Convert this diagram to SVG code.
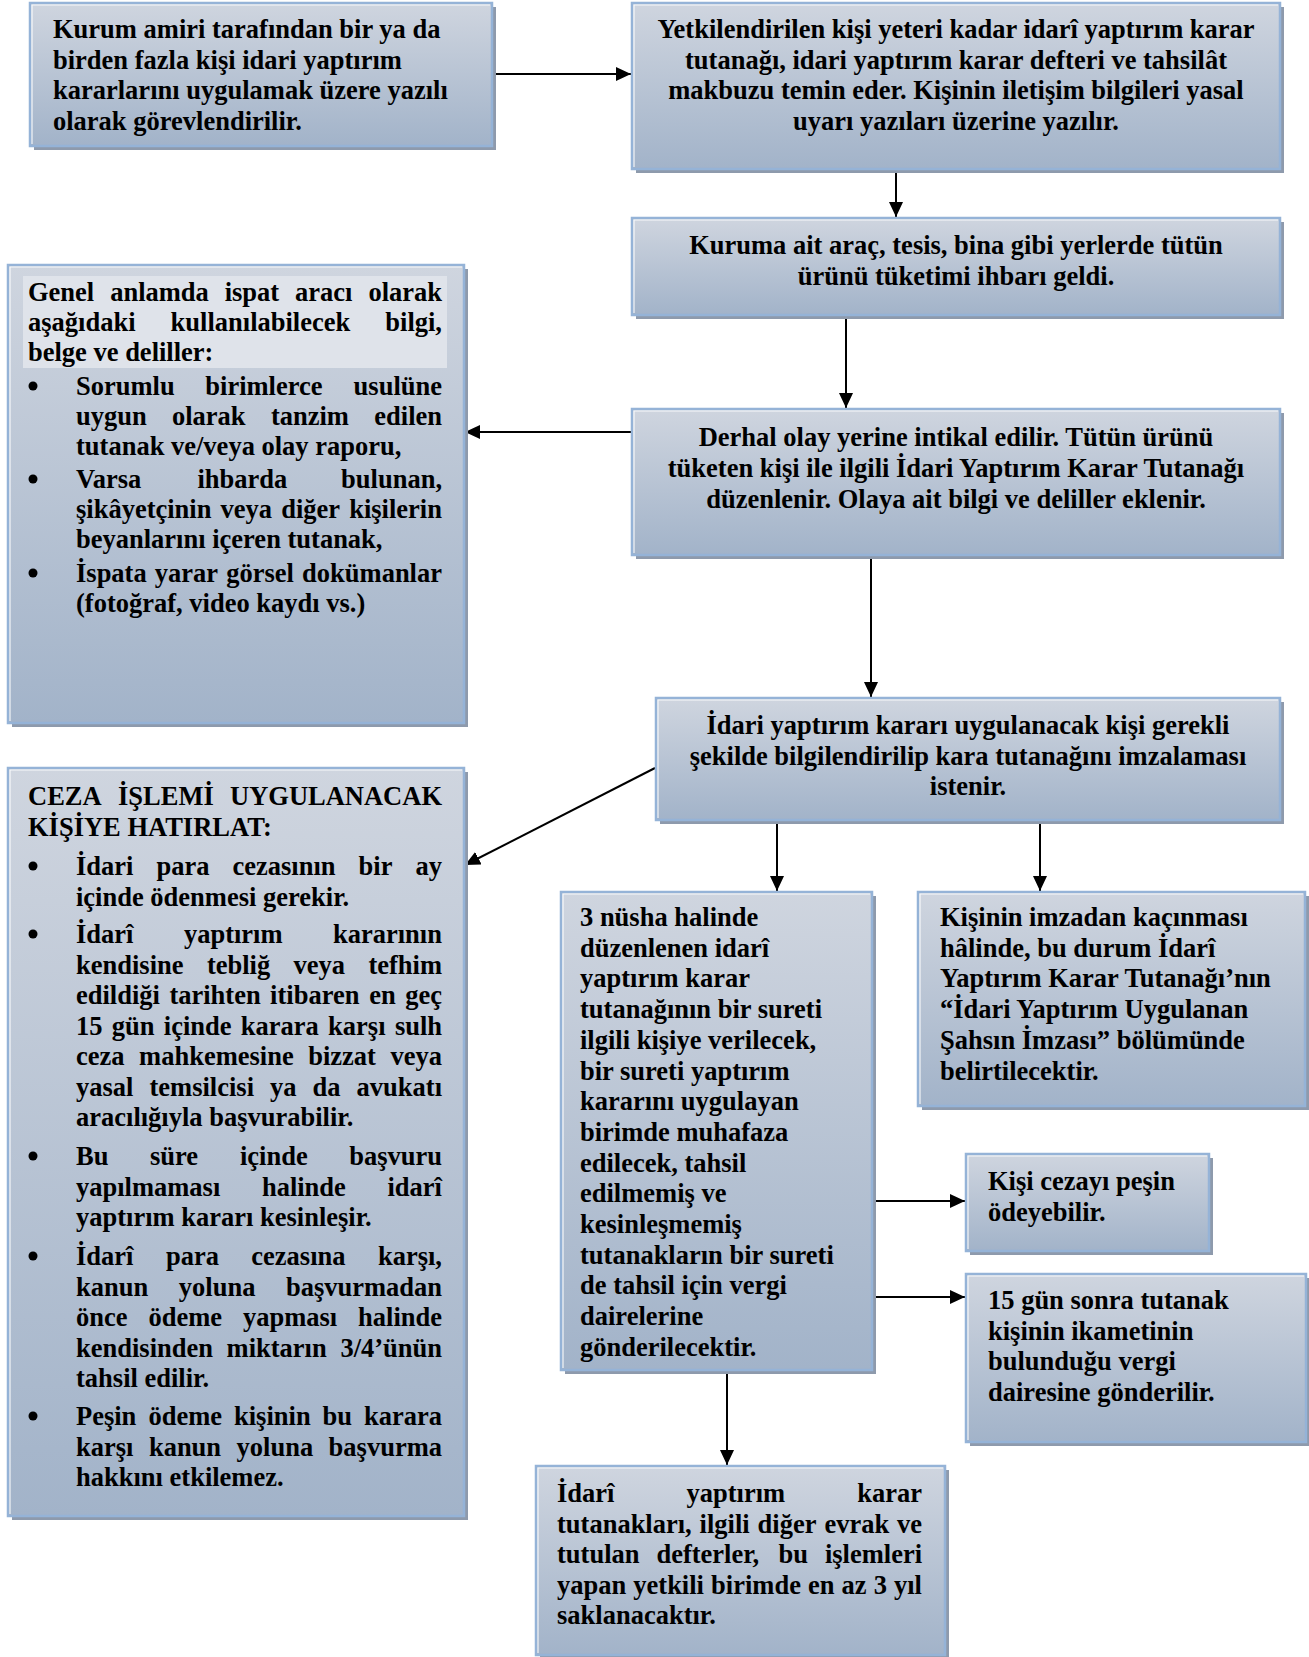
<svg xmlns="http://www.w3.org/2000/svg" width="1309" height="1657" viewBox="0 0 1309 1657">
<style>
.t{font-family:"Liberation Serif","Times New Roman",serif;font-weight:700;font-size:26.5px;fill:#000}
.c{text-anchor:middle}
.sh{fill:#8e9aac}
.bx{fill:url(#g);stroke:#95b3d7;stroke-width:2.5}
.hl{fill:none;stroke:#ffffff;stroke-width:1.2;opacity:0.85}
.ln{stroke:#000;stroke-width:2;fill:none;marker-end:url(#ah)}
.bu{fill:#000}
</style>
<defs>
<linearGradient id="g" x1="0" y1="0" x2="0" y2="1">
<stop offset="0" stop-color="#cfd5df"/>
<stop offset="1" stop-color="#a2b3c9"/>
</linearGradient>
<marker id="ah" markerUnits="userSpaceOnUse" markerWidth="16" markerHeight="14" refX="15" refY="7" orient="auto">
<path d="M0,0 L15,7 L0,14 Z" fill="#000"/>
</marker>
</defs>

<g id="connectors">
<line class="ln" x1="490" y1="74" x2="631" y2="74"/>
<line class="ln" x1="896" y1="170" x2="896" y2="217"/>
<line class="ln" x1="846" y1="316" x2="846" y2="408"/>
<line class="ln" x1="631" y1="432" x2="465" y2="432"/>
<line class="ln" x1="871" y1="557" x2="871" y2="697"/>
<line class="ln" x1="655" y1="768" x2="465" y2="865"/>
<line class="ln" x1="777" y1="821" x2="777" y2="891"/>
<line class="ln" x1="1040" y1="821" x2="1040" y2="891"/>
<line class="ln" x1="873" y1="1201" x2="965" y2="1201"/>
<line class="ln" x1="873" y1="1297" x2="965" y2="1297"/>
<line class="ln" x1="727" y1="1371" x2="727" y2="1465"/>
</g>

<g id="n1">
<rect class="sh" x="34" y="7" width="462" height="143"/>
<rect class="bx" x="30" y="3" width="462" height="143"/>
<path class="hl" d="M32,144 V5 H490"/>
<text class="t" x="53" y="38">Kurum amiri tarafından bir ya da</text>
<text class="t" x="53" y="68.5">birden fazla kişi idari yaptırım</text>
<text class="t" x="53" y="99">kararlarını uygulamak üzere yazılı</text>
<text class="t" x="53" y="129.5">olarak görevlendirilir.</text>
</g>

<g id="n2">
<rect class="sh" x="636" y="7" width="648" height="166"/>
<rect class="bx" x="632" y="3" width="648" height="166"/>
<path class="hl" d="M634,167 V5 H1278"/>
<text class="t c" x="956" y="38">Yetkilendirilen kişi yeteri kadar idarî yaptırım karar</text>
<text class="t c" x="956" y="68.5">tutanağı, idari yaptırım karar defteri ve tahsilât</text>
<text class="t c" x="956" y="99">makbuzu temin eder. Kişinin iletişim bilgileri yasal</text>
<text class="t c" x="956" y="129.5">uyarı yazıları üzerine yazılır.</text>
</g>

<g id="n3">
<rect class="sh" x="636" y="222" width="648" height="97"/>
<rect class="bx" x="632" y="218" width="648" height="97"/>
<path class="hl" d="M634,313 V220 H1278"/>
<text class="t c" x="956" y="254">Kuruma ait araç, tesis, bina gibi yerlerde tütün</text>
<text class="t c" x="956" y="285">ürünü tüketimi ihbarı geldi.</text>
</g>

<g id="n4">
<rect class="sh" x="12" y="269" width="456" height="458"/>
<rect class="bx" x="8" y="265" width="456" height="458"/>
<path class="hl" d="M10,721 V267 H462"/>
<rect x="23" y="276" width="424" height="92" fill="#dfe3ea"/>
<text class="t" y="301"><tspan x="28">Genel</tspan><tspan x="110.2">anlamda</tspan><tspan x="224.7">ispat</tspan><tspan x="295.1">aracı</tspan><tspan x="368.4">olarak</tspan></text>
<text class="t" y="331"><tspan x="28">aşağıdaki</tspan><tspan x="170.6">kullanılabilecek</tspan><tspan x="385.3">bilgi,</tspan></text>
<text class="t" x="28" y="361">belge ve deliller:</text>
<circle class="bu" cx="33" cy="386" r="4.5"/>
<text class="t" y="395"><tspan x="76">Sorumlu</tspan><tspan x="205.3">birimlerce</tspan><tspan x="353.6">usulüne</tspan></text>
<text class="t" y="425"><tspan x="76">uygun</tspan><tspan x="172">olarak</tspan><tspan x="270.9">tanzim</tspan><tspan x="374.3">edilen</tspan></text>
<text class="t" x="76" y="455">tutanak ve/veya olay raporu,</text>
<circle class="bu" cx="33" cy="479" r="4.5"/>
<text class="t" y="488"><tspan x="76">Varsa</tspan><tspan x="197.5">ihbarda</tspan><tspan x="341.1">bulunan,</tspan></text>
<text class="t" y="518"><tspan x="76">şikâyetçinin</tspan><tspan x="220.6">veya</tspan><tspan x="281.2">diğer</tspan><tspan x="349.2">kişilerin</tspan></text>
<text class="t" x="76" y="548">beyanlarını içeren tutanak,</text>
<circle class="bu" cx="33" cy="573" r="4.5"/>
<text class="t" y="582"><tspan x="76">İspata</tspan><tspan x="154.8">yarar</tspan><tspan x="226.2">görsel</tspan><tspan x="302.1">dokümanlar</tspan></text>
<text class="t" x="76" y="612">(fotoğraf, video kaydı vs.)</text>
</g>

<g id="n5">
<rect class="sh" x="636" y="413" width="648" height="146"/>
<rect class="bx" x="632" y="409" width="648" height="146"/>
<path class="hl" d="M634,553 V411 H1278"/>
<text class="t c" x="956" y="446">Derhal olay yerine intikal edilir. Tütün ürünü</text>
<text class="t c" x="956" y="477">tüketen kişi ile ilgili İdari Yaptırım Karar Tutanağı</text>
<text class="t c" x="956" y="508">düzenlenir. Olaya ait bilgi ve deliller eklenir.</text>
</g>

<g id="n6">
<rect class="sh" x="660" y="702" width="624" height="122"/>
<rect class="bx" x="656" y="698" width="624" height="122"/>
<path class="hl" d="M658,818 V700 H1278"/>
<text class="t c" x="968" y="734">İdari yaptırım kararı uygulanacak kişi gerekli</text>
<text class="t c" x="968" y="764.5">şekilde bilgilendirilip kara tutanağını imzalaması</text>
<text class="t c" x="968" y="795">istenir.</text>
</g>

<g id="n7">
<rect class="sh" x="12" y="772" width="456" height="748"/>
<rect class="bx" x="8" y="768" width="456" height="748"/>
<path class="hl" d="M10,1514 V770 H462"/>
<text class="t" y="805"><tspan x="28">CEZA</tspan><tspan x="118">İŞLEMİ</tspan><tspan x="230">UYGULANACAK</tspan></text>
<text class="t" x="28" y="835.5">KİŞİYE HATIRLAT:</text>
<circle class="bu" cx="33" cy="866" r="4.5"/>
<text class="t" y="875"><tspan x="76">İdari</tspan><tspan x="156.5">para</tspan><tspan x="232.5">cezasının</tspan><tspan x="358.6">bir</tspan><tspan x="415.5">ay</tspan></text>
<text class="t" x="76" y="905.5">içinde ödenmesi gerekir.</text>
<circle class="bu" cx="33" cy="934" r="4.5"/>
<text class="t" y="943"><tspan x="76">İdarî</tspan><tspan x="183.9">yaptırım</tspan><tspan x="333">kararının</tspan></text>
<text class="t" y="973.5"><tspan x="76">kendisine</tspan><tspan x="206.9">tebliğ</tspan><tspan x="293.6">veya</tspan><tspan x="368.4">tefhim</tspan></text>
<text class="t" y="1004"><tspan x="76">edildiği</tspan><tspan x="169.4">tarihten</tspan><tspan x="270.1">itibaren</tspan><tspan x="369.3">en</tspan><tspan x="405.2">geç</tspan></text>
<text class="t" y="1034.5"><tspan x="76">15</tspan><tspan x="111.8">gün</tspan><tspan x="163.8">içinde</tspan><tspan x="240.8">karara</tspan><tspan x="328.1">karşı</tspan><tspan x="394.9">sulh</tspan></text>
<text class="t" y="1065"><tspan x="76">ceza</tspan><tspan x="139.1">mahkemesine</tspan><tspan x="308.2">bizzat</tspan><tspan x="390.5">veya</tspan></text>
<text class="t" y="1095.5"><tspan x="76">yasal</tspan><tspan x="149.5">temsilcisi</tspan><tspan x="270.1">ya</tspan><tspan x="312.6">da</tspan><tspan x="356.6">avukatı</tspan></text>
<text class="t" x="76" y="1126">aracılığıyla başvurabilir.</text>
<circle class="bu" cx="33" cy="1156" r="4.5"/>
<text class="t" y="1165"><tspan x="76">Bu</tspan><tspan x="149.9">süre</tspan><tspan x="240">içinde</tspan><tspan x="349.2">başvuru</tspan></text>
<text class="t" y="1195.5"><tspan x="76">yapılmaması</tspan><tspan x="261.9">halinde</tspan><tspan x="387.5">idarî</tspan></text>
<text class="t" x="76" y="1226">yaptırım kararı kesinleşir.</text>
<circle class="bu" cx="33" cy="1256" r="4.5"/>
<text class="t" y="1265"><tspan x="76">İdarî</tspan><tspan x="165.9">para</tspan><tspan x="251.3">cezasına</tspan><tspan x="377.9">karşı,</tspan></text>
<text class="t" y="1295.5"><tspan x="76">kanun</tspan><tspan x="178.8">yoluna</tspan><tspan x="285.9">başvurmadan</tspan></text>
<text class="t" y="1326"><tspan x="76">önce</tspan><tspan x="148.4">ödeme</tspan><tspan x="242.9">yapması</tspan><tspan x="358.1">halinde</tspan></text>
<text class="t" y="1356.5"><tspan x="76">kendisinden</tspan><tspan x="226.6">miktarın</tspan><tspan x="340.4">3/4’ünün</tspan></text>
<text class="t" x="76" y="1387">tahsil edilir.</text>
<circle class="bu" cx="33" cy="1416" r="4.5"/>
<text class="t" y="1425"><tspan x="76">Peşin</tspan><tspan x="148.4">ödeme</tspan><tspan x="234">kişinin</tspan><tspan x="322.6">bu</tspan><tspan x="364">karara</tspan></text>
<text class="t" y="1455.5"><tspan x="76">karşı</tspan><tspan x="148.9">kanun</tspan><tspan x="236.6">yoluna</tspan><tspan x="328.6">başvurma</tspan></text>
<text class="t" x="76" y="1486">hakkını etkilemez.</text>
</g>

<g id="n8">
<rect class="sh" x="565" y="896" width="311" height="478"/>
<rect class="bx" x="561" y="892" width="311" height="478"/>
<path class="hl" d="M563,1368 V894 H870"/>
<text class="t" x="580" y="926">3 nüsha halinde</text>
<text class="t" x="580" y="956.7">düzenlenen idarî</text>
<text class="t" x="580" y="987.4">yaptırım karar</text>
<text class="t" x="580" y="1018.1">tutanağının bir sureti</text>
<text class="t" x="580" y="1048.8">ilgili kişiye verilecek,</text>
<text class="t" x="580" y="1079.5">bir sureti yaptırım</text>
<text class="t" x="580" y="1110.2">kararını uygulayan</text>
<text class="t" x="580" y="1140.9">birimde muhafaza</text>
<text class="t" x="580" y="1171.6">edilecek, tahsil</text>
<text class="t" x="580" y="1202.3">edilmemiş ve</text>
<text class="t" x="580" y="1233">kesinleşmemiş</text>
<text class="t" x="580" y="1263.7">tutanakların bir sureti</text>
<text class="t" x="580" y="1294.4">de tahsil için vergi</text>
<text class="t" x="580" y="1325.1">dairelerine</text>
<text class="t" x="580" y="1355.8">gönderilecektir.</text>
</g>

<g id="n9">
<rect class="sh" x="922" y="896" width="387" height="214"/>
<rect class="bx" x="918" y="892" width="387" height="214"/>
<path class="hl" d="M920,1104 V894 H1303"/>
<text class="t" x="940" y="926">Kişinin imzadan kaçınması</text>
<text class="t" x="940" y="956.7">hâlinde, bu durum İdarî</text>
<text class="t" x="940" y="987.4">Yaptırım Karar Tutanağı’nın</text>
<text class="t" x="940" y="1018.1">“İdari Yaptırım Uygulanan</text>
<text class="t" x="940" y="1048.8">Şahsın İmzası” bölümünde</text>
<text class="t" x="940" y="1079.5">belirtilecektir.</text>
</g>

<g id="n10">
<rect class="sh" x="970" y="1158" width="243" height="97"/>
<rect class="bx" x="966" y="1154" width="243" height="97"/>
<path class="hl" d="M968,1249 V1156 H1207"/>
<text class="t" x="988" y="1190">Kişi cezayı peşin</text>
<text class="t" x="988" y="1220.5">ödeyebilir.</text>
</g>

<g id="n11">
<rect class="sh" x="970" y="1278" width="340" height="168"/>
<rect class="bx" x="966" y="1274" width="340" height="168"/>
<path class="hl" d="M968,1440 V1276 H1304"/>
<text class="t" x="988" y="1309">15 gün sonra tutanak</text>
<text class="t" x="988" y="1339.5">kişinin ikametinin</text>
<text class="t" x="988" y="1370">bulunduğu vergi</text>
<text class="t" x="988" y="1400.5">dairesine gönderilir.</text>
</g>

<g id="n12">
<rect class="sh" x="540" y="1470" width="409" height="189"/>
<rect class="bx" x="536" y="1466" width="409" height="189"/>
<path class="hl" d="M538,1653 V1468 H943"/>
<text class="t" y="1502"><tspan x="557">İdarî</tspan><tspan x="686.5">yaptırım</tspan><tspan x="857.2">karar</tspan></text>
<text class="t" y="1532.5"><tspan x="557">tutanakları,</tspan><tspan x="699.6">ilgili</tspan><tspan x="757.6">diğer</tspan><tspan x="824.4">evrak</tspan><tspan x="897">ve</tspan></text>
<text class="t" y="1563"><tspan x="557">tutulan</tspan><tspan x="656.4">defterler,</tspan><tspan x="778.5">bu</tspan><tspan x="824.9">işlemleri</tspan></text>
<text class="t" y="1593.5"><tspan x="557">yapan</tspan><tspan x="633.3">yetkili</tspan><tspan x="711.1">birimde</tspan><tspan x="808">en</tspan><tspan x="841.6">az</tspan><tspan x="873.7">3</tspan><tspan x="894">yıl</tspan></text>
<text class="t" x="557" y="1624">saklanacaktır.</text>
</g>
</svg>
